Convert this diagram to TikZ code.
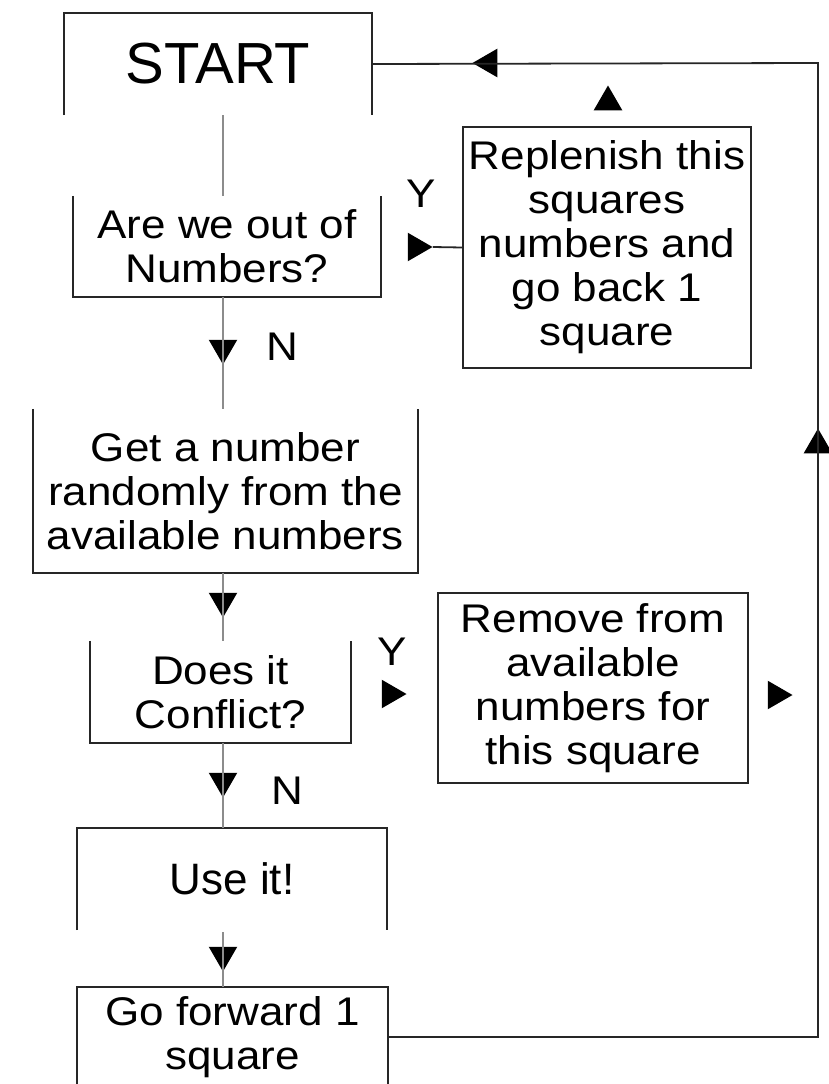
\documentclass[tikz,border=0pt]{standalone}
\usepackage{fontspec}
\setmainfont{Liberation Sans}
\newfontfamily\bodyfont[FakeStretch=1.1]{Liberation Sans}
\usetikzlibrary{shapes.geometric}
\begin{document}
\begin{tikzpicture}[x=1pt,y=-1pt,
  box/.style={inner sep=0pt, align=center, font=\bodyfont\fontsize{40}{44}\selectfont},
  fullbox/.style={box, draw=black!85, line width=1.8pt},
  outline/.style={draw=black!85, line width=1.8pt},
  conn/.style={draw=black!45, line width=1.4pt},
  loopline/.style={draw=black!85, line width=1.8pt},
  tri/.style={regular polygon, regular polygon sides=3, fill=black, draw=none, inner sep=0pt, minimum size=33pt},
  lbl/.style={font=\bodyfont\fontsize{40}{44}\selectfont, inner sep=0pt}]
\useasboundingbox (0,0) rectangle (829,1084);
\clip (0,0) rectangle (829,1084);
\fill[white] (0,0) rectangle (829,1084);

% boxes
\node[box, minimum width=308pt, minimum height=102pt] (start) at (218,64) {\rmfamily\fontsize{58}{64}\selectfont START};
\node[box, minimum width=308pt, minimum height=101pt] (are) at (227,246.5) {Are we out of\\Numbers?};
\node[box, minimum width=385pt, minimum height=164pt] (get) at (225.5,491) {Get a number\\randomly from the\\available numbers};
\node[box, minimum width=261pt, minimum height=102pt] (conf) at (220.5,692) {Does it\\Conflict?};
\node[box, minimum width=310pt, minimum height=102pt] (use) at (232,879) {\rmfamily\fontsize{44}{48}\selectfont Use it!};
\node[box, minimum width=311pt, minimum height=100pt] (go) at (232.5,1037) {Go forward 1\\square};
\node[fullbox, minimum width=288pt, minimum height=241pt] (rep) at (607,247.5) {Replenish this\\squares\\numbers and\\go back 1\\square};
\node[fullbox, minimum width=310pt, minimum height=190pt] (rem) at (593,688) {Remove from\\available\\numbers for\\this square};

% open outlines
\draw[outline] (start.south west) -- (start.north west) -- (start.north east) -- (start.south east);
\draw[outline] (are.north west) -- (are.south west) -- (are.south east) -- (are.north east);
\draw[outline] (get.north west) -- (get.south west) -- (get.south east) -- (get.north east);
\draw[outline] (conf.north west) -- (conf.south west) -- (conf.south east) -- (conf.north east);
\draw[outline] (use.south west) -- (use.north west) -- (use.north east) -- (use.south east);
\draw[outline] (go.south west) -- (go.north west) -- (go.north east) -- (go.south east);

% column for the main connectors
\coordinate (col) at (223,0);
\coordinate (rx) at (818,63);

% arrowheads
\node[tri, shape border rotate=180] (t1) at (223,348) {};
\node[tri, shape border rotate=180] (t2) at (223,601) {};
\node[tri, shape border rotate=180] (t3) at (223,781) {};
\node[tri, shape border rotate=180] (t4) at (223,955) {};
\node[tri, shape border rotate=270] (t5) at (416,247) {};
\node[tri] (t6) at (608,102) {};
\node[tri, shape border rotate=90] (t7) at (489,63) {};
\node[tri] (t8) at (818,445) {};
\node[tri, shape border rotate=270] (t9) at (390,694) {};
\node[tri, shape border rotate=270] (t10) at (776,695) {};

% connectors
\draw[conn] (start.south -| col) -- (are.north -| col);
\draw[conn] (are.south -| col) -- (get.north -| col);
\draw[conn] (get.south -| col) -- (conf.north -| col);
\draw[conn] (conf.south -| col) -- (use.north -| col);
\draw[conn] (use.south -| col) ++(0,2) -- (go.north -| col);
\draw[loopline] (rep.west) -- (t5.corner 1);
\draw[loopline] (go.east) -| (rx) -- (start.east);

% labels
\node[lbl] (y1) at (421,194) {Y};
\node[lbl] (n1) at (282,347) {N};
\node[lbl] (y2) at (392,652) {Y};
\node[lbl] (n2) at (287,791) {N};
\end{tikzpicture}
\end{document}
